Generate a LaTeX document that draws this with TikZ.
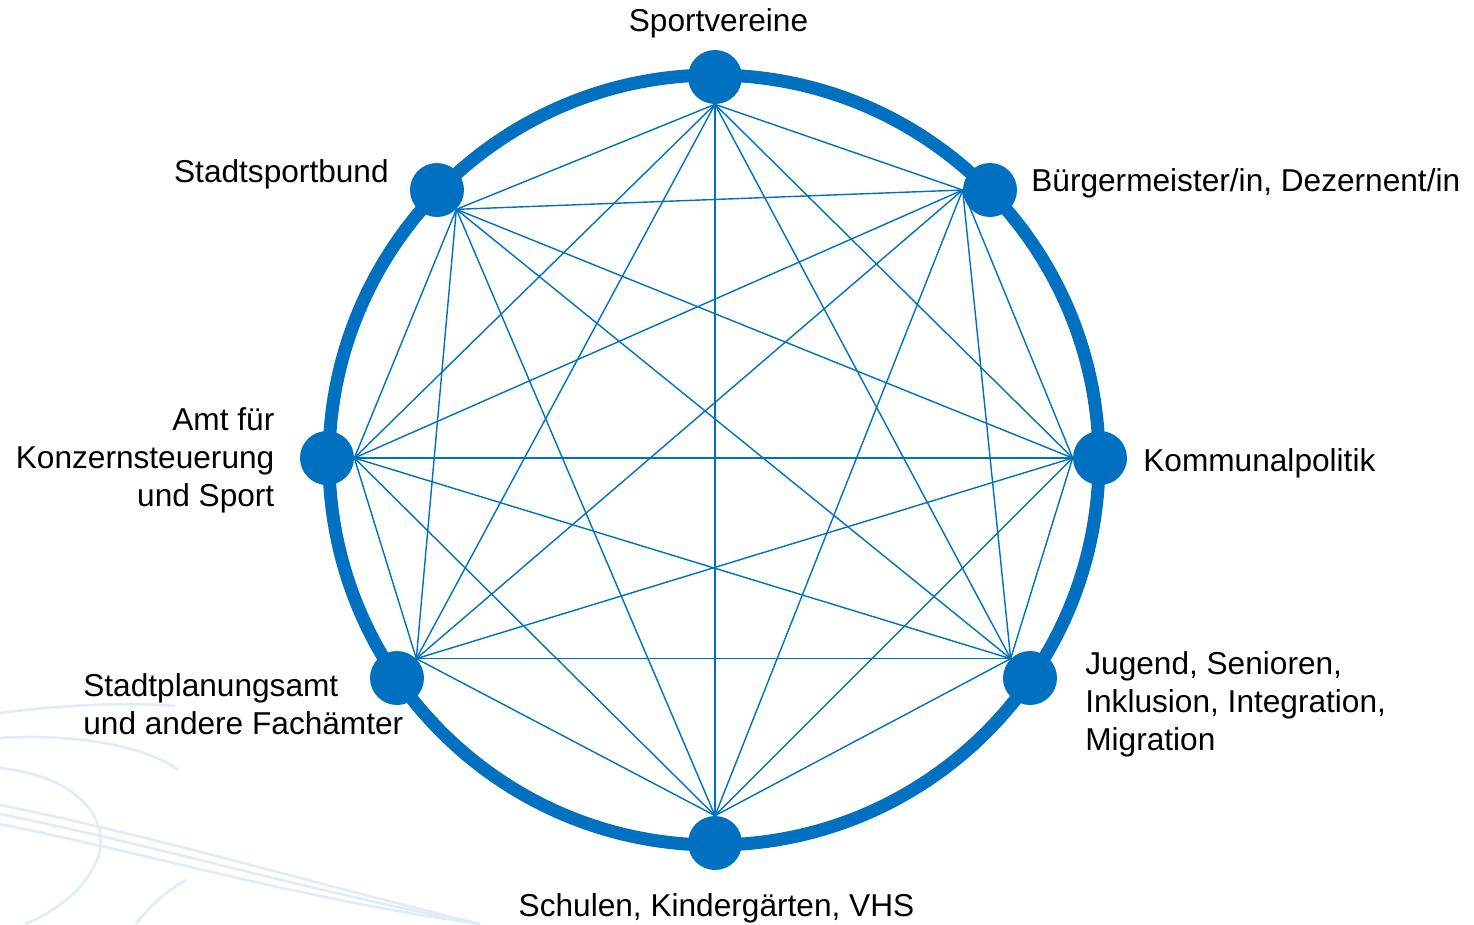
\documentclass[tikz,border=0pt]{standalone}
\usepackage{fontspec}
\setmainfont{Liberation Sans}
\usepackage{xcolor}
\usepackage{tikz}
\usetikzlibrary{positioning}
\definecolor{netblue}{RGB}{0,112,192}
\definecolor{swooshblue}{RGB}{224,237,247}
\tikzstyle{dot}=[circle,fill=netblue,draw=none,minimum size=1.08cm,inner sep=0pt]
\tikzstyle{ring}=[draw=netblue,line width=0.26cm]
\tikzstyle{link}=[draw=netblue,line width=0.8pt]
\tikzstyle{swoosh}=[draw=swooshblue,line width=1.5pt]
\tikzset{lbl/.style={inner sep=0pt,font=\fontsize{18}{21.8}\selectfont}}

\begin{document}
\begin{tikzpicture}[x=0.02cm, y=-0.02cm]

  \useasboundingbox (0,0) rectangle (1474,924);

  % faint background curves
  \foreach \yy in {805,814,824}
    \path[swoosh] (0,\yy) .. controls (150,\yy+30) and (300,\yy+75) .. (480,924);
  \path[swoosh] (0,768) .. controls (90,778) and (112,830) .. (96,862)
                        .. controls (84,890) and (55,912) .. (25,924);
  \path[swoosh] (0,713) .. controls (60,705) and (130,702) .. (175,706);
  \path[swoosh] (0,738) .. controls (80,733) and (150,748) .. (178,770);
  \path[swoosh] (136,924) .. controls (150,905) and (168,890) .. (186,880);

  \path[ring] (714,460) circle (385);

  \foreach \x/\y/\name in {715/77/sv, 990/190/bm, 1100/458/kp, 1030/678/jg,
                           715/843/sc, 397/678/sp, 327/458/ak, 437/190/ss}
          \node[dot] (\name) at (\x,\y) {};

  % every pair of partners is linked
  \foreach \a/\pa [count=\i] in {sv/-90, bm/180, kp/180, jg/135, sc/90, sp/45, ak/0, ss/-45}
    \foreach \b/\pb [count=\j] in {sv/-90, bm/180, kp/180, jg/135, sc/90, sp/45, ak/0, ss/-45}
      {\ifnum\j>\i \path[link] (\a.\pa) -- (\b.\pb); \fi}

  \node[lbl, above=0.22cm of sv, xshift=0.07cm] (svlab) {Sportvereine};
  \node[lbl, anchor=base west] (bmlab) at (1031,191) {Bürgermeister/in, Dezernent/in};
  \node[lbl, anchor=base west] (kplab) at (1143,471) {Kommunalpolitik};
  \node[lbl, anchor=north west, align=left] (jglab) at (1085,651)
       {Jugend, Senioren,\\Inklusion, Integration,\\Migration};
  \node[lbl, below=0.46cm of sc, xshift=0.03cm] (sclab) {Schulen, Kindergärten, VHS};
  \node[lbl, anchor=north west, align=left] (splab) at (83,673)
       {Stadtplanungsamt\\und andere Fachämter};
  \node[lbl, left=0.5cm of ak, align=right, yshift=-0.05cm] (aklab) {Amt für\\Konzernsteuerung\\und Sport};
  \node[lbl, anchor=base east] (sslab) at (389,182) {Stadtsportbund};

\end{tikzpicture}
\end{document}
